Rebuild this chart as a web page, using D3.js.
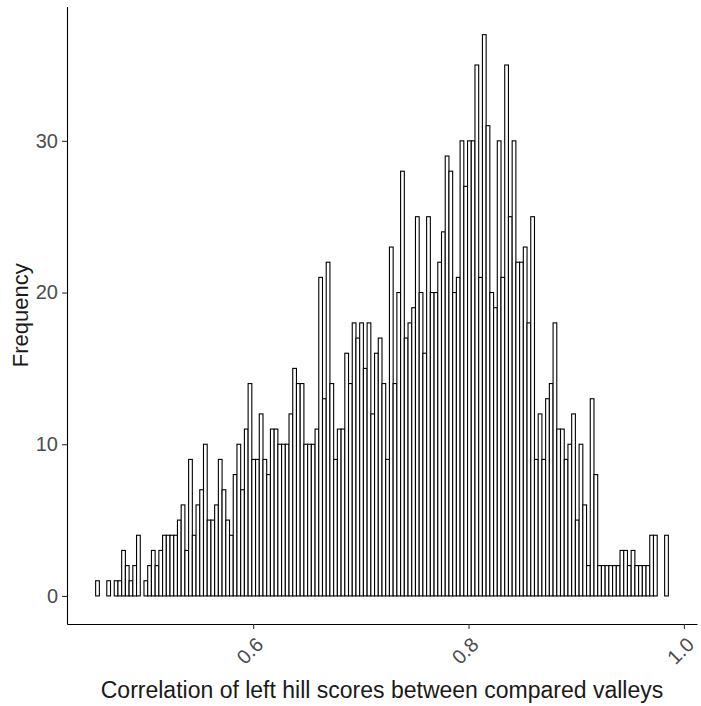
<!DOCTYPE html>
<html>
<head>
<meta charset="utf-8">
<script src="https://cdn.jsdelivr.net/npm/d3@7"></script>
<style>
  body { margin: 0; background: #fff; }
  text { font-family: "Liberation Sans", Arial, sans-serif; }
</style>
</head>
<body>
<svg id="hist" width="701" height="706"></svg>
<script>
// histogram data
const binStart = 0.4537;
const binWidth = 0.003454;
const counts = [
  1, 0, 0, 1, 0, 1, 1, 3, 2, 1, 2, 4, 0, 1, 2, 3, 2, 3, 4, 4, 4, 4, 5, 6, 3, 9, 4,
  6, 7, 10, 5, 5, 6, 9, 7, 5, 4, 8, 10, 7, 11, 14, 9, 9, 12, 9, 8, 11, 11, 10, 10, 10, 12, 15, 14, 14, 10, 10, 10,
  11, 21, 13, 22, 14, 9, 11, 11, 16, 14, 18, 17, 18, 15, 18, 12, 16, 17, 14, 9, 23, 14, 20, 28, 17, 18, 19,
  25, 20, 16, 25, 20, 20, 22, 24, 29, 28, 20, 21, 30, 27, 30, 30, 35, 21, 37, 31, 20, 19, 30, 21, 35, 25, 30, 22, 22, 23, 18,
  25, 9, 12, 9, 13, 14, 18, 11, 11, 9, 10, 12, 5, 10, 6, 2, 13, 8, 2, 2, 2, 2, 2, 2, 3, 3, 2, 3, 2, 2, 2, 2, 4, 4, 0, 0, 4
];
const xTicks = [0.6, 0.8, 1.0];
const yTicks = [0, 10, 20, 30];
const xTitle = "Correlation of left hill scores between compared valleys";
const yTitle = "Frequency";

const svg = d3.select("#hist");
const m = { left: 67, right: 697, top: 6.6, bottom: 624 };

const bins = counts.map((c, i) => ({
  x0: binStart + i * binWidth,
  x1: binStart + (i + 1) * binWidth,
  n: c
}));

// ggplot-style 5% expansion
const xLo = bins[0].x0, xHi = bins[bins.length - 1].x1;
const xPad = (xHi - xLo) * 0.05;
const yMax = d3.max(counts), yPad = yMax * 0.05;

const x = d3.scaleLinear().domain([xLo - xPad, xHi + xPad]).range([m.left, m.right]);
const y = d3.scaleLinear().domain([-yPad, yMax + yPad]).range([m.bottom, m.top]);

// bars
svg.append("g")
  .selectAll("rect")
  .data(bins)
  .join("rect")
  .attr("x", d => x(d.x0))
  .attr("width", d => x(d.x1) - x(d.x0))
  .attr("y", d => y(d.n))
  .attr("height", d => y(0) - y(d.n))
  .attr("fill", "#fff")
  .attr("stroke", "#000")
  .attr("stroke-width", 1.1);

// x axis
const gx = svg.append("g")
  .attr("transform", `translate(0,${m.bottom})`)
  .call(d3.axisBottom(x).tickValues(xTicks).tickFormat(d3.format(".1f")).tickSize(5).tickSizeOuter(0));
gx.select(".domain").attr("stroke", "#000").attr("stroke-width", 1.1);
gx.selectAll(".tick line").attr("stroke", "#333").attr("stroke-width", 1.1);
gx.selectAll(".tick text")
  .attr("fill", "#4d4d4d")
  .style("font-size", "20px")
  .attr("text-anchor", "end")
  .attr("transform", "translate(1,12) rotate(-45)")
  .attr("x", 0).attr("y", 0).attr("dy", "0.7em");

// y axis
const gy = svg.append("g")
  .attr("transform", `translate(${m.left},0)`)
  .call(d3.axisLeft(y).tickValues(yTicks).tickSize(5).tickSizeOuter(0).tickPadding(4));
gy.select(".domain").attr("stroke", "#000").attr("stroke-width", 1.1);
gy.selectAll(".tick line").attr("stroke", "#333").attr("stroke-width", 1.1);
gy.selectAll(".tick text").attr("fill", "#4d4d4d").style("font-size", "20px");

// axis titles
svg.append("text")
  .attr("x", (m.left + m.right) / 2)
  .attr("y", 698)
  .attr("text-anchor", "middle")
  .attr("fill", "#1a1a1a")
  .style("font-size", "23px")
  .text(xTitle);

svg.append("text")
  .attr("transform", `translate(28,${(m.top + m.bottom) / 2}) rotate(-90)`)
  .attr("text-anchor", "middle")
  .attr("fill", "#1a1a1a")
  .style("font-size", "22px")
  .text(yTitle);
</script>
</body>
</html>
